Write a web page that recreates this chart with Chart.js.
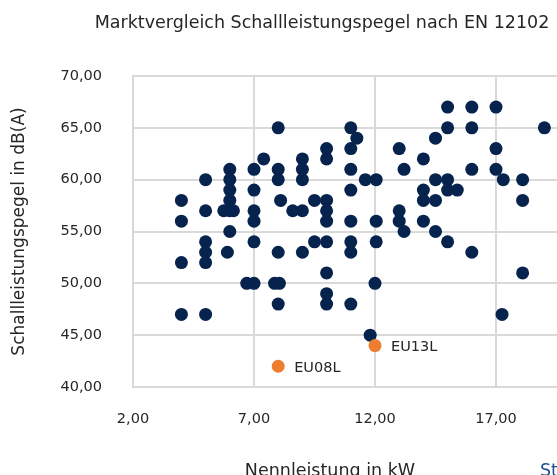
<!DOCTYPE html>
<html><head><meta charset="utf-8">
<script src="https://cdn.jsdelivr.net/npm/chart.js@4"></script>
<style>
html,body{margin:0;padding:0;overflow:hidden;background:#fff}
#wrap{width:557px;height:475px;overflow:hidden;position:relative}
canvas{display:block}
</style></head><body>
<div id="wrap"><canvas id="c" width="640" height="475"></canvas></div>
<script>
const chartTitle = 'Marktvergleich Schallleistungspegel nach EN 12102';
const xAxisTitle = 'Nennleistung in kW';
const yAxisTitle = 'Schallleistungspegel in dB(A)';
const legendText = 'St';

const marketX = [4,4,4,4, 5,5,5,5,5,5, 5.75,6,6,6,6,6,6.15,6,5.9, 6.7,7,7,7,7,7,7, 7.4,
  8,8,8,8.1,8,7.85,8.05,8, 8.6,9,9,9,9,9, 9.5,9.5, 10,10,10,10,10,10,10,10,10,
  11,11.25,11,11,11,11,11,11,11, 11.6,12.05,12.05,12.05,12, 11.8,
  13,13,13,13.2,13.2, 14,14,14,14, 14.5,14.5,14.5,14.5, 15,15,15,15,15,15.4,
  16,16,16,16, 17,17,17, 17.3,17.25, 18.1,18.1,18.1, 19];
const marketY = [58,56,52,47, 60,57,54,53,52,47, 57,61,60,59,58,57,57,55,53, 50,61,59,57,56,54,50, 62,
  65,61,60,58,53,50,50,48, 57,57,62,61,60,53, 58,54, 63,62,58,57,56,54,51,49,48,
  65,64,63,61,59,56,54,53,48, 60,60,56,54,50, 45,
  63,57,56,61,55, 62,59,58,56, 64,60,58,55, 67,65,60,59,54,59,
  67,65,61,53, 67,63,61, 60,47, 60,58,51, 65];

const highlightNames = ['EU08L','EU13L'];
const highlightX = [8,12];
const highlightY = [42,44];

const xTickValues = [2,7,12,17];
const xTickLabels = ['2,00','7,00','12,00','17,00'];
const yTickValues = [40,45,50,55,60,65,70];
const yTickLabels = ['40,00','45,00','50,00','55,00','60,00','65,00','70,00'];

const FONT = 'DejaVu Sans';
const TEXT = '#262626';
const GRID = '#d9d9d9';

const textPlugin = {
  id: 'texts',
  afterDraw(chart) {
    const ctx = chart.ctx;
    const a = chart.chartArea;
    ctx.save();
    ctx.fillStyle = TEXT;
    ctx.textBaseline = 'middle';
    ctx.font = '17.5px "' + FONT + '"';
    ctx.textAlign = 'center';
    ctx.fillText(chartTitle, 322, 23);
    ctx.textBaseline = 'alphabetic';
    ctx.fillText(xAxisTitle, 330, 476);
    ctx.save();
    ctx.translate(20, (a.top + a.bottom) / 2);
    ctx.rotate(-Math.PI / 2);
    ctx.textBaseline = 'middle';
    ctx.font = '17px "' + FONT + '"';
    ctx.fillText(yAxisTitle, 0, 0);
    ctx.restore();
    ctx.textAlign = 'left';
    ctx.fillStyle = '#1f4e8c';
    ctx.fillText(legendText, 540, 476);
    ctx.fillStyle = TEXT;
    ctx.textBaseline = 'middle';
    ctx.font = '14.5px "' + FONT + '"';
    const meta = chart.getDatasetMeta(1);
    meta.data.forEach((el, i) => {
      ctx.fillText(highlightNames[i], el.x + 16, el.y + 2);
    });
    ctx.restore();
  }
};

new Chart(document.getElementById('c'), {
  type: 'scatter',
  data: {
    datasets: [
      {
        label: 'Markt',
        data: marketX.map((x, i) => ({x: x, y: marketY[i]})),
        backgroundColor: '#05234d',
        borderWidth: 0,
        pointRadius: 6.5,
        order: 1
      },
      {
        label: 'Highlight',
        data: highlightX.map((x, i) => ({x: x, y: highlightY[i]})),
        backgroundColor: '#ed7d31',
        borderWidth: 0,
        pointRadius: 6.5,
        order: 0
      }
    ]
  },
  options: {
    responsive: false,
    devicePixelRatio: 1,
    animation: false,
    layout: {padding: {top: 76, right: 23, left: 0, bottom: 0}},
    plugins: {legend: {display: false}, title: {display: false}, tooltip: {enabled: false}},
    scales: {
      x: {
        type: 'linear', min: 2, max: 22,
        afterFit: s => { s.height = 88; },
        afterBuildTicks: s => { s.ticks = xTickValues.map(v => ({value: v})); },
        grid: {color: GRID, lineWidth: 2, drawTicks: false},
        border: {color: GRID, width: 2},
        ticks: {
          padding: 24, color: TEXT, font: {family: FONT, size: 14.5},
          maxRotation: 0, autoSkip: false,
          callback: v => xTickLabels[xTickValues.indexOf(v)]
        }
      },
      y: {
        type: 'linear', min: 40, max: 70,
        afterFit: s => { s.width = 133; },
        afterBuildTicks: s => { s.ticks = yTickValues.map(v => ({value: v})); },
        grid: {color: GRID, lineWidth: 2, drawTicks: false},
        border: {color: GRID, width: 2},
        ticks: {
          padding: 31, color: TEXT, font: {family: FONT, size: 14.5},
          autoSkip: false,
          callback: v => yTickLabels[yTickValues.indexOf(v)]
        }
      }
    }
  },
  plugins: [textPlugin]
});
</script>
</body></html>
